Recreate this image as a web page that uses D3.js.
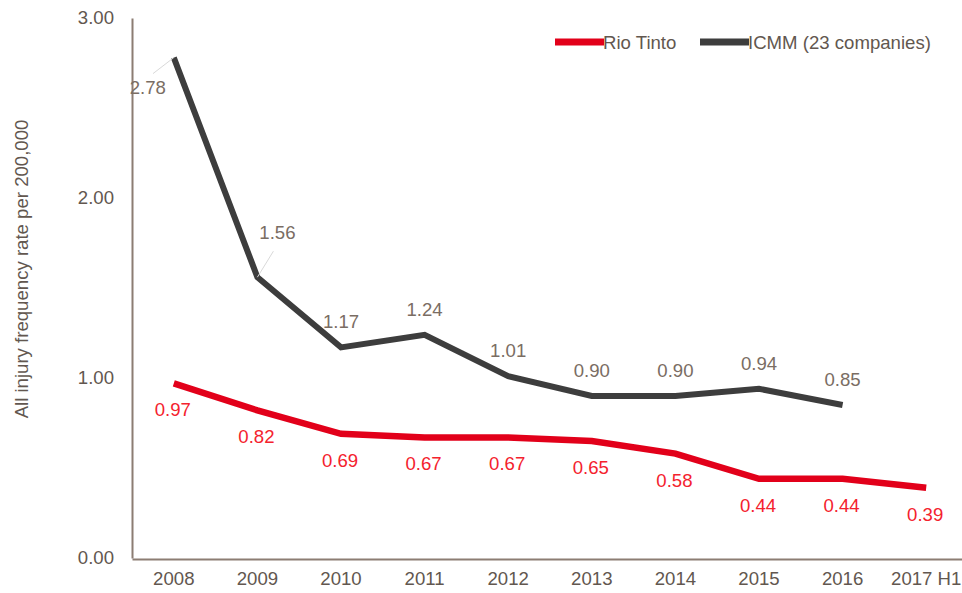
<!DOCTYPE html>
<html>
<head>
<meta charset="utf-8">
<script src="https://cdn.jsdelivr.net/npm/d3@7"></script>
<style>
    body { margin: 0; background: #fff; }
    text { font-family: "Liberation Sans", Arial, sans-serif; }
</style>
</head>
<body>
<svg id="chart"></svg>
<script>
const years = ['2008', '2009', '2010', '2011', '2012', '2013', '2014', '2015', '2016', '2017 H1']
const rioTinto = [0.97, 0.82, 0.69, 0.67, 0.67, 0.65, 0.58, 0.44, 0.44, 0.39]
const icmm = [2.78, 1.56, 1.17, 1.24, 1.01, 0.90, 0.90, 0.94, 0.85, null]
const yTicks = [0, 1, 2, 3]
const seriesNames = ['Rio Tinto', 'ICMM (23 companies)']

const width = 962
const height = 593
const fontSize = 18.6

const svg = d3.select('#chart')
    .attr('width', width)
    .attr('height', height)

const x = d3.scaleBand()
    .domain(years)
    .range([132, 968])

const y = d3.scaleLinear()
    .domain([0, 3])
    .range([558, 18])

const cx = d => x(d) + x.bandwidth() / 2

// axes
const xAxis = svg.append('g')
    .attr('transform', `translate(0, ${y(0) + 1})`)
    .call(d3.axisBottom(x).tickSize(0).tickPadding(13))
xAxis.select('.domain').attr('stroke', '#8c7d73').attr('stroke-width', 2)
xAxis.selectAll('text')
    .attr('font-size', fontSize)
    .attr('fill', '#62574f')
    .style('font-family', '"Liberation Sans", Arial, sans-serif')

const yAxis = svg.append('g')
    .attr('transform', 'translate(132, 0)')
    .call(d3.axisLeft(y).tickValues(yTicks).tickFormat(d3.format('.2f')).tickSize(0).tickPadding(18))
yAxis.select('.domain').attr('stroke', '#8c7d73').attr('stroke-width', 2)
yAxis.selectAll('text')
    .attr('font-size', fontSize)
    .attr('fill', '#62574f')
    .style('font-family', '"Liberation Sans", Arial, sans-serif')

svg.append('text')
    .attr('transform', 'translate(28, 269) rotate(-90)')
    .attr('text-anchor', 'middle')
    .attr('font-size', fontSize)
    .attr('fill', '#62574f')
    .text('All injury frequency rate per 200,000')

// lines
const line = d3.line()
    .defined(d => d.v != null)
    .x(d => cx(d.year))
    .y(d => y(d.v))

const rioData = years.map((yr, i) => ({year: yr, v: rioTinto[i]}))
const icmmData = years.map((yr, i) => ({year: yr, v: icmm[i]}))

svg.append('path')
    .datum(icmmData)
    .attr('fill', 'none')
    .attr('stroke', '#3d3d3d')
    .attr('stroke-width', 6)
    .attr('d', line)

svg.append('path')
    .datum(rioData)
    .attr('fill', 'none')
    .attr('stroke', '#e2001a')
    .attr('stroke-width', 6.5)
    .attr('d', line)

// data labels
// first two ICMM labels are pushed aside with a thin leader line
const icmmShift = {0: [-26, 36], 1: [20, -38]}

icmmData.forEach((d, i) => {
    if (d.v == null) return
    const px = cx(d.year), py = y(d.v)
    const s = icmmShift[i]
    let lx = px, ly = py - 19
    if (s) {
        lx = px + s[0]
        ly = py + s[1]
        svg.append('line')
            .attr('x1', px).attr('y1', py)
            .attr('x2', px + s[0] * 0.8).attr('y2', py + (s[1] > 0 ? s[1] - 20 : s[1] + 12))
            .attr('stroke', '#d9d9d9')
            .attr('stroke-width', 1)
    }
    svg.append('text')
        .attr('x', lx)
        .attr('y', ly)
        .attr('text-anchor', 'middle')
        .attr('font-size', fontSize)
        .attr('fill', '#7a6d63')
        .text(d3.format('.2f')(d.v))
})

svg.selectAll('.rioLabel')
    .data(rioData)
    .join('text')
    .attr('class', 'rioLabel')
    .attr('x', d => cx(d.year) - 1)
    .attr('y', d => y(d.v) + 33)
    .attr('text-anchor', 'middle')
    .attr('font-size', fontSize)
    .attr('fill', '#f4222e')
    .text(d => d3.format('.2f')(d.v))

// legend
const legend = svg.append('g').attr('transform', 'translate(555, 42)')
const legendItems = [
    {name: seriesNames[0], color: '#e2001a', x: 0},
    {name: seriesNames[1], color: '#3d3d3d', x: 145}
]
legendItems.forEach(item => {
    legend.append('line')
        .attr('x1', item.x).attr('x2', item.x + 49)
        .attr('y1', 0).attr('y2', 0)
        .attr('stroke', item.color)
        .attr('stroke-width', 7)
    legend.append('text')
        .attr('x', item.x + 48)
        .attr('y', 6.5)
        .attr('font-size', fontSize)
        .attr('fill', '#62574f')
        .text(item.name)
})
</script>
</body>
</html>
